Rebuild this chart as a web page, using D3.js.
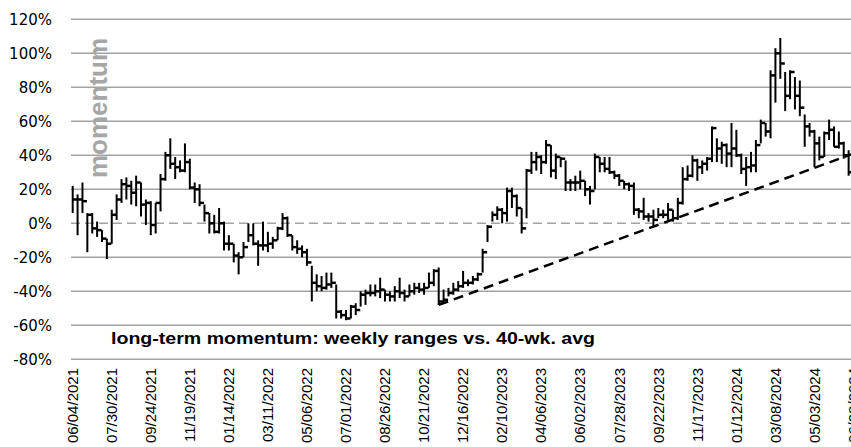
<!DOCTYPE html>
<html>
<head>
<meta charset="utf-8">
<script src="https://cdn.jsdelivr.net/npm/d3@7"></script>
<style>
  body { margin: 0; background: #fff; }
  svg { display: block; }
</style>
</head>
<body>
<svg></svg>
<script>
// tick labels on the category axis (every 8th week)
const tickLabels = ["06/04/2021", "07/30/2021", "09/24/2021", "11/19/2021", "01/14/2022",
  "03/11/2022", "05/06/2022", "07/01/2022", "08/26/2022", "10/21/2022", "12/16/2022",
  "02/10/2023", "04/06/2023", "06/02/2023", "07/28/2023", "09/22/2023", "11/17/2023",
  "01/12/2024", "03/08/2024", "05/03/2024", "06/28/2024"];
const firstWeek = "06/04/2021";
const yTicks = [-80, -60, -40, -20, 0, 20, 40, 60, 80, 100, 120];

// weekly ranges (% vs. 40-wk avg), one entry per week
const highs = [22, 17, 24, 6, 6, 1, -4, -9, 8, 17, 26, 27, 25, 28, 24, 14, 13, 12, 29, 42,
  50, 39, 37, 47, 38, 24, 23, 11, 6, 5, 9, 1, -7, -12, -17, -11, 0, 0, -10, 1,
  -5, -8, -2, 6, 4, -7, -10, -13, -15, -25, -30, -31, -29, -29, -36, -51, -51, -48, -47, -40,
  -39, -36, -36, -32, -39, -40, -37, -32, -39, -36, -35, -35, -35, -29, -27, -26, -39, -38, -35, -34,
  -28, -33, -31, -29, -15, -1, 7, 10, 9, 21, 21, 17, 9, 32, 42, 42, 40, 49, 46, 41,
  39, 37, 26, 28, 31, 25, 22, 41, 39, 39, 39, 31, 29, 25, 24, 24, 9, 15, 6, 8,
  9, 8, 12, 8, 15, 33, 34, 40, 38, 37, 39, 57, 50, 48, 47, 59, 55, 41, 39, 42,
  49, 61, 59, 90, 103, 109, 89, 90, 86, 84, 64, 59, 55, 51, 54, 61, 57, 54, 48, 43];
const lows = [6, -7, 6, -17, -6, -8, -11, -21, -12, 2, 12, 14, 11, 10, 4, -1, -7, -6, 7, 25,
  32, 26, 30, 30, 20, 12, 10, 1, -6, -6, -6, -16, -16, -23, -30, -20, -11, -13, -25, -16,
  -17, -15, -10, -4, -8, -16, -18, -20, -25, -46, -40, -40, -39, -38, -56, -56, -57, -56, -54, -49,
  -48, -43, -43, -44, -46, -46, -46, -44, -46, -43, -42, -41, -42, -38, -37, -48, -47, -43, -42, -40,
  -38, -37, -36, -34, -29, -11, 1, 2, 0, 1, 9, 4, -6, 3, 29, 31, 29, 35, 27, 26,
  33, 19, 19, 19, 20, 16, 11, 20, 30, 30, 29, 26, 22, 20, 19, 5, 3, 2, 1, -2,
  3, 3, 2, 1, 2, 11, 25, 27, 25, 29, 31, 36, 36, 35, 33, 33, 39, 29, 22, 30,
  30, 47, 51, 50, 71, 85, 66, 73, 67, 63, 45, 51, 33, 37, 39, 49, 45, 44, 38, 28];
const closes = [14, 14, 13, 5, -3, -4, -9, -12, 5, 14, 23, 22, 18, 24, 11, 12, -1, 12, 26, 40,
  35, 33, 31, 36, 21, 20, 12, 6, 0, -5, 0, -12, -12, -19, -20, -14, -7, -12, -13, -13,
  -12, -10, -3, 3, -7, -14, -15, -17, -23, -35, -37, -38, -36, -35, -52, -54, -56, -49, -51, -42,
  -41, -41, -40, -39, -42, -43, -40, -41, -43, -40, -38, -39, -38, -35, -28, -46, -45, -41, -39, -37,
  -35, -35, -33, -30, -17, -2, 5, 8, 6, 19, 16, 9, -3, 31, 36, 39, 36, 46, 31, 39,
  38, 24, 24, 24, 25, 20, 19, 39, 35, 32, 30, 28, 25, 23, 22, 8, 7, 4, 4, 2,
  5, 5, 8, 3, 12, 26, 28, 37, 33, 35, 38, 56, 44, 46, 41, 44, 40, 32, 33, 34,
  46, 59, 54, 87, 100, 94, 75, 89, 75, 68, 57, 54, 47, 39, 53, 55, 45, 47, 40, 30];

// dashed support line
const trendDates = ["11/11/2022", "06/28/2024"];
const trendValues = [-48, 41];

const size = { w: 851, h: 447 };
const svg = d3.select("svg").attr("width", size.w).attr("height", size.h);
const parse = d3.utcParse("%m/%d/%Y");
const font = "'Liberation Sans', Arial, sans-serif";

const start = parse(firstWeek);
const weeks = closes.map((c, i) => ({
  date: d3.utcDay.offset(start, 7 * i),
  high: highs[i],
  low: lows[i],
  close: c,
}));

const x = d3.scaleUtc()
  .domain([parse(tickLabels[0]), parse(tickLabels[tickLabels.length - 1])])
  .range([72.7, 853.5]);
const y = d3.scaleLinear().domain([-80, 120]).range([359.3, 19.3]);

// gridlines
svg.append("g")
  .selectAll("line")
  .data(yTicks.filter((d) => d !== 0))
  .join("line")
  .attr("x1", 71)
  .attr("x2", size.w)
  .attr("y1", (d) => y(d))
  .attr("y2", (d) => y(d))
  .attr("stroke", "#a3a3a3")
  .attr("stroke-width", 1.5);

// zero line, dashed
svg.append("line")
  .attr("x1", 71)
  .attr("x2", size.w)
  .attr("y1", y(0))
  .attr("y2", y(0))
  .attr("stroke", "#a3a3a3")
  .attr("stroke-width", 1.5)
  .attr("stroke-dasharray", "9,5");

// y labels
svg.append("g")
  .selectAll("text")
  .data(yTicks)
  .join("text")
  .attr("x", 52)
  .attr("y", (d) => y(d))
  .attr("dy", "0.35em")
  .attr("text-anchor", "end")
  .style("font-family", "'DejaVu Sans', sans-serif")
  .style("font-size", "15px")
  .text((d) => d + "%");

// x labels, rotated (the last one runs off the edge, as in the original)
svg.append("g")
  .selectAll("text")
  .data(tickLabels)
  .join("text")
  .attr("transform", (d) => `translate(${x(parse(d))},368) rotate(-90)`)
  .attr("dy", "0.35em")
  .attr("text-anchor", "end")
  .style("font-family", font)
  .style("font-size", "15px")
  .text((d) => d);

// vertical "momentum" label
svg.append("text")
  .attr("transform", "translate(107,178) rotate(-90)")
  .style("font-family", font)
  .style("font-size", "26px")
  .style("font-weight", "bold")
  .attr("fill", "#a6a6a6")
  .text("momentum");

// trend line
svg.append("line")
  .attr("x1", x(parse(trendDates[0])))
  .attr("y1", y(trendValues[0]))
  .attr("x2", x(parse(trendDates[1])))
  .attr("y2", y(trendValues[1]))
  .attr("stroke", "#000")
  .attr("stroke-width", 2.5)
  .attr("stroke-dasharray", "10,6");

// high-low-close bars
const barG = svg.append("g");
barG.selectAll("line")
  .data(weeks)
  .join("line")
  .attr("x1", (d) => x(d.date))
  .attr("x2", (d) => x(d.date))
  .attr("y1", (d) => y(d.high))
  .attr("y2", (d) => y(d.low))
  .attr("stroke", "#000")
  .attr("stroke-width", 2);
barG.selectAll("rect")
  .data(weeks)
  .join("rect")
  .attr("x", (d) => x(d.date))
  .attr("y", (d) => y(d.close) - 1.25)
  .attr("width", 4.5)
  .attr("height", 2.5)
  .attr("fill", "#000");

// caption (stretched wide like the original)
svg.append("text")
  .attr("x", 111)
  .attr("y", 344)
  .attr("textLength", 484)
  .attr("lengthAdjust", "spacingAndGlyphs")
  .style("font-family", font)
  .style("font-size", "16px")
  .style("font-weight", "bold")
  .text("long-term momentum: weekly ranges vs. 40-wk. avg");
</script>
</body>
</html>
